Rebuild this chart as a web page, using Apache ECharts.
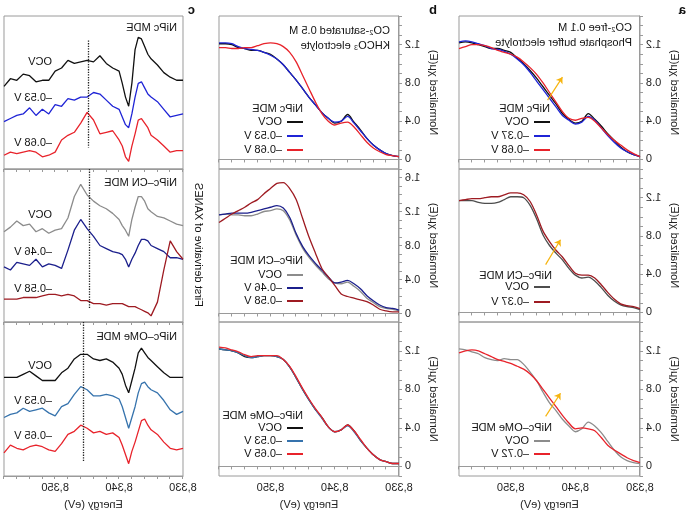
<!DOCTYPE html>
<html>
<head>
  <meta charset="utf-8">
  <script src="https://cdn.jsdelivr.net/npm/echarts@6/dist/echarts.min.js"></script>
  <style>
    html, body { margin: 0; padding: 0; background: #fff; }
    /* the reference figure is a left-right mirror image, so the whole chart is flipped */
    #id_chart { width: 693px; height: 519px; transform: scaleX(-1); }
  </style>
</head>
<body>
<div id="id_chart"></div>
<script type="text/javascript">
  // energy grid (eV) of the XANES spectra, panels a and b
  var energy = [8330, 8331, 8332, 8333, 8334, 8335, 8336, 8337, 8338, 8339, 8340, 8341, 8342, 8343, 8344,
                8345, 8346, 8347, 8348, 8349, 8350, 8351, 8352, 8353, 8354, 8355, 8356, 8357, 8358];

  // panel a: CO2-free 0.1 M phosphate buffer
  var aNiPcOCV  = [.03,.05,.08,.13,.20,.27,.35,.42,.48,.40,.38,.42,.48,.58,.67,.76,.85,.93,1.00,1.06,1.12,1.14,1.16,1.16,1.18,1.20,1.22,1.23,1.22];
  var aNiPcN037 = [.03,.05,.08,.12,.18,.25,.33,.41,.45,.39,.37,.41,.46,.55,.64,.73,.82,.91,.99,1.05,1.10,1.13,1.15,1.16,1.19,1.21,1.23,1.24,1.23];
  var aNiPcN068 = [.03,.06,.10,.15,.20,.26,.33,.40,.44,.43,.41,.43,.50,.60,.70,.80,.89,.96,1.02,1.07,1.10,1.12,1.14,1.17,1.19,1.20,1.20,1.18,1.16];
  var aCNOCV    = [.03,.05,.06,.08,.12,.18,.26,.33,.37,.36,.39,.46,.55,.62,.70,.81,.98,1.12,1.20,1.21,1.21,1.18,1.15,1.14,1.14,1.15,1.17,1.17,1.17];
  var aCNN037   = [.04,.06,.07,.09,.14,.21,.29,.36,.39,.39,.41,.49,.58,.65,.74,.85,1.02,1.16,1.23,1.25,1.25,1.23,1.21,1.21,1.20,1.19,1.19,1.18,1.17];
  var aOMeOCV   = [.03,.04,.06,.10,.17,.26,.35,.42,.46,.39,.36,.42,.49,.58,.66,.77,.89,.98,1.06,1.11,1.11,1.12,1.10,1.11,1.13,1.17,1.19,1.21,1.22];
  var aOMeN072  = [.04,.06,.09,.13,.17,.22,.30,.37,.39,.40,.39,.45,.53,.62,.71,.80,.89,.96,1.01,1.04,1.07,1.09,1.11,1.14,1.17,1.20,1.21,1.20,1.18];

  // panel b: CO2-saturated 0.5 M KHCO3
  var bNiPcOCV  = [.03,.04,.06,.10,.15,.22,.31,.39,.47,.40,.38,.43,.49,.57,.65,.74,.83,.91,.99,1.05,1.10,1.12,1.14,1.14,1.16,1.17,1.20,1.21,1.21];
  var bNiPcN053 = [.03,.04,.06,.10,.15,.22,.30,.38,.45,.40,.39,.43,.49,.57,.65,.74,.83,.91,.99,1.05,1.09,1.12,1.14,1.15,1.16,1.18,1.21,1.22,1.22];
  var bNiPcN068 = [.03,.04,.05,.08,.12,.18,.26,.34,.39,.38,.36,.40,.48,.60,.74,.88,1.02,1.12,1.18,1.21,1.22,1.21,1.19,1.17,1.17,1.16,1.16,1.17,1.17];
  var bCNOCV    = [.03,.05,.06,.08,.13,.18,.26,.32,.37,.35,.36,.41,.49,.57,.66,.77,.92,1.10,1.21,1.23,1.21,1.20,1.17,1.15,1.15,1.16,1.16,1.17,1.16];
  var bCNN046   = [.04,.06,.07,.10,.15,.21,.29,.35,.39,.37,.36,.43,.51,.59,.68,.79,.94,1.13,1.24,1.27,1.25,1.23,1.21,1.19,1.18,1.18,1.18,1.17,1.16];
  var bCNN058   = [.02,.02,.03,.05,.10,.14,.16,.18,.20,.23,.33,.43,.53,.71,.90,1.12,1.34,1.47,1.54,1.53,1.47,1.41,1.34,1.30,1.25,1.21,1.17,1.12,1.07];
  var bOMeOCV   = [.03,.03,.05,.07,.12,.19,.27,.37,.43,.38,.36,.41,.51,.59,.69,.80,.92,1.03,1.11,1.14,1.15,1.15,1.14,1.13,1.14,1.18,1.20,1.21,1.22];
  var bOMeN053  = [.03,.03,.05,.07,.12,.19,.27,.36,.42,.38,.36,.41,.50,.59,.69,.80,.92,1.03,1.11,1.14,1.15,1.15,1.14,1.13,1.15,1.18,1.20,1.21,1.22];
  var bOMeN065  = [.03,.03,.05,.07,.12,.19,.28,.37,.43,.38,.36,.41,.51,.60,.70,.81,.93,1.04,1.11,1.15,1.15,1.15,1.15,1.14,1.16,1.19,1.21,1.23,1.24];

  // panel c: first derivative (arbitrary units, curves offset)
  var energyC = [8330, 8331, 8332, 8333, 8334, 8335, 8335.5, 8336, 8336.5, 8337, 8337.5, 8338, 8338.5, 8339, 8339.5, 8340,
                 8341, 8342, 8343, 8344, 8345, 8346, 8347, 8348, 8349, 8350, 8351, 8352, 8353, 8354, 8355, 8356, 8357, 8358];
  var cNiPcOCV  = [58,58,60,63,68,72, 75,80,85,86,78,56,41,47,56,64, 66,69,74,70,71,70,69,71,66,64,58,58,57,61,62,58,59,54];
  var cNiPcN053 = [36,35,34,39,44,47, 49,53,57,56,47,36,27,29,34,39, 41,45,49,50,47,47,45,46,41,42,36,39,35,40,36,35,33,31];
  var cNiPcN068 = [12,12,11,15,19,22, 27,30,33,32,23,15,5,8,15,19, 25,24,23,32,37,30,24,22,19,11,9,8,11,12,11,10,11,9];
  var cCNOCV    = [63,64,66,68,69,72, 74,79,82,82,75,67,56,60,63,67, 71,74,76,79,83,90,82,68,61,60,58,61,59,64,63,66,62,59];
  var cCNN046   = [41,42,42,46,48,50, 53,54,54,50,45,41,36,41,44,45, 46,48,50,56,61,67,60,47,35,37,38,36,41,37,38,39,34,36];
  var cCNN058   = [41,46,53,34,13,4, 6,7,8,9,10,10,10,11,12,12, 12,11,12,12,14,14,17,18,17,18,18,17,16,16,16,15,15,15];
  var cOMeOCV   = [64,64,64,67,71,75, 77,80,83,80,70,62,54,59,66,70, 74,76,75,76,79,79,76,70,67,62,62,62,65,68,66,64,64,64];
  var cOMeN053  = [42,40,43,49,54,56, 58,61,60,54,45,38,31,38,45,50, 52,53,52,52,56,58,53,47,45,39,41,44,43,42,44,41,40,38];
  var cOMeN065  = [18,17,18,22,27,30, 33,37,36,29,22,16,8,14,20,25, 28,27,29,28,31,33,29,27,21,16,17,19,20,19,17,18,20,15];

  // yellow arrows in panel a: [E tail, value tail, E head, value head]
  var arrowsA = [[8344.3, 0.62, 8342.0, 0.86], [8344.6, 0.50, 8342.3, 0.76], [8344.6, 0.52, 8342.3, 0.76]];
  // dotted guide lines in panel c: [E, upper, lower]
  var guidesC = [[8344.7, 84, 14], [8344.6, 100, 9], [8345.5, 100, 9]];

  var FONT = 'Liberation Sans, Arial, sans-serif';
  var AXIS = '#9a9a9a';
  var cols = [{ left: 53, width: 181 }, { left: 294, width: 180 }, { left: 510, width: 179 }];
  var rows = [{ top: 16, height: 153 }, { top: 169, height: 153 }, { top: 322, height: 154 }];

  function pairs(xs, ys) {
    return xs.map(function (x, i) { return [x, ys[i]]; });
  }

  var grids = [], xAxes = [], yAxes = [], seriesList = [];
  for (var c = 0; c < 3; c++) {
    for (var r = 0; r < 3; r++) {
      var g = c * 3 + r;
      grids.push({ left: cols[c].left, width: cols[c].width, top: rows[r].top, height: rows[r].height,
        show: true, borderColor: AXIS, borderWidth: 1, backgroundColor: 'transparent' });
      xAxes.push({
        type: 'value', gridIndex: g, min: 8330, max: 8358, interval: 2,
        axisLine: { lineStyle: { color: AXIS } },
        axisTick: { length: 3, lineStyle: { color: AXIS } },
        splitLine: { show: false },
        axisLabel: { show: r === 2, margin: 6, fontSize: 11, color: '#222', fontFamily: FONT,
          formatter: function (v) { return v % 10 === 0 ? String(v).replace(/(\d)(\d{3})$/, '$1,$2') : ''; } },
        name: r === 2 ? 'Energy (eV)' : '', nameLocation: 'middle', nameGap: 23,
        nameTextStyle: { fontSize: 11, color: '#222', fontFamily: FONT }
      });
      if (c < 2) {
        yAxes.push({
          type: 'value', gridIndex: g, min: -0.1, max: (c === 1 && r === 1) ? 1.7 : 1.5, interval: 0.1,
          axisLine: { show: true, lineStyle: { color: AXIS } },
          axisTick: { show: true, length: 3, lineStyle: { color: AXIS } },
          splitLine: { show: false },
          axisLabel: { margin: 6, fontSize: 11, color: '#222', fontFamily: FONT,
            formatter: function (v) { var k = Math.round(v * 10); return k % 4 === 0 ? String(k / 10) : ''; } },
          name: 'Normalized χμ(E)', nameLocation: 'middle', nameGap: 29,
          nameTextStyle: { fontSize: 11, color: '#222', fontFamily: FONT }
        });
      } else {
        yAxes.push({ type: 'value', gridIndex: g, min: 0, max: 100, show: false });
      }
    }
  }

  function addLine(g, name, xs, ys, color, smooth) {
    var s = { type: 'line', name: name, xAxisIndex: g, yAxisIndex: g, data: pairs(xs, ys),
      symbol: 'none', smooth: smooth, color: color, lineStyle: { width: 1.3, color: color } };
    seriesList.push(s);
    return s;
  }

  var BLACK = '#111111', BLUE = '#1f24d6', RED = '#e8232b', DGRAY = '#4d4d4d', GRAY = '#8c8c8c',
      DRED = '#9e1b22', NAVY = '#1b1f8c', STEEL = '#3673ad', GOLD = '#f6b40e';

  var aFirst = [
    addLine(0, 'a1|OCV', energy, aNiPcOCV, BLACK, 0.3),
    null, null
  ];
  addLine(0, 'a1|–0.37 V', energy, aNiPcN037, BLUE, 0.3);
  addLine(0, 'a1|–0.68 V', energy, aNiPcN068, RED, 0.3);
  aFirst[1] = addLine(1, 'a2|OCV', energy, aCNOCV, DGRAY, 0.3);
  addLine(1, 'a2|–0.37 V', energy, aCNN037, DRED, 0.3);
  aFirst[2] = addLine(2, 'a3|OCV', energy, aOMeOCV, GRAY, 0.3);
  addLine(2, 'a3|–0.72 V', energy, aOMeN072, RED, 0.3);

  addLine(3, 'b1|OCV', energy, bNiPcOCV, BLACK, 0.3);
  addLine(3, 'b1|–0.53 V', energy, bNiPcN053, BLUE, 0.3);
  addLine(3, 'b1|–0.68 V', energy, bNiPcN068, RED, 0.3);
  addLine(4, 'b2|OCV', energy, bCNOCV, GRAY, 0.3);
  addLine(4, 'b2|–0.46 V', energy, bCNN046, NAVY, 0.3);
  addLine(4, 'b2|–0.58 V', energy, bCNN058, DRED, 0.3);
  addLine(5, 'b3|OCV', energy, bOMeOCV, BLACK, 0.3);
  addLine(5, 'b3|–0.53 V', energy, bOMeN053, STEEL, 0.3);
  addLine(5, 'b3|–0.65 V', energy, bOMeN065, RED, 0.3);

  var cFirst = [
    addLine(6, 'c1|OCV', energyC, cNiPcOCV, BLACK, false),
    null, null
  ];
  addLine(6, 'c1|–0.53 V', energyC, cNiPcN053, BLUE, false);
  addLine(6, 'c1|–0.68 V', energyC, cNiPcN068, RED, false);
  cFirst[1] = addLine(7, 'c2|OCV', energyC, cCNOCV, GRAY, false);
  addLine(7, 'c2|–0.46 V', energyC, cCNN046, NAVY, false);
  addLine(7, 'c2|–0.58 V', energyC, cCNN058, DRED, false);
  cFirst[2] = addLine(8, 'c3|OCV', energyC, cOMeOCV, BLACK, false);
  addLine(8, 'c3|–0.53 V', energyC, cOMeN053, STEEL, false);
  addLine(8, 'c3|–0.65 V', energyC, cOMeN065, RED, false);

  // arrows (panel a) and dotted guides (panel c)
  arrowsA.forEach(function (a, i) {
    aFirst[i].markLine = { silent: true, symbol: ['none', 'arrow'], symbolSize: 6,
      lineStyle: { color: GOLD, width: 1.2, type: 'solid' }, label: { show: false },
      data: [[{ coord: [a[0], a[1]] }, { coord: [a[2], a[3]] }]] };
  });
  guidesC.forEach(function (d, i) {
    cFirst[i].markLine = { silent: true, symbol: ['none', 'none'],
      lineStyle: { color: '#222', width: 1.3, type: 'dotted' }, label: { show: false },
      data: [[{ coord: [d[0], d[1]] }, { coord: [d[0], d[2]] }]] };
  });

  function legendAt(x, top, gap, names) {
    return { left: x, top: top, orient: 'vertical', icon: 'rect', itemWidth: 16, itemHeight: 2,
      itemGap: gap, padding: 0, selectedMode: false, data: names,
      formatter: function (n) { return n.split('|')[1]; },
      textStyle: { fontSize: 11, color: '#111', lineHeight: 12, fontFamily: FONT } };
  }
  var legends = [
    legendAt(143, 116, 2, ['a1|OCV', 'a1|–0.37 V', 'a1|–0.68 V']),
    legendAt(143, 281, 3, ['a2|OCV', 'a2|–0.37 V']),
    legendAt(143, 435, 1, ['a3|OCV', 'a3|–0.72 V']),
    legendAt(390, 116, 2, ['b1|OCV', 'b1|–0.53 V', 'b1|–0.68 V']),
    legendAt(390, 269, 1, ['b2|OCV', 'b2|–0.46 V', 'b2|–0.58 V']),
    legendAt(390, 422, 1, ['b3|OCV', 'b3|–0.53 V', 'b3|–0.65 V'])
  ];

  function txt(text, x, y, extra) {
    var t = { text: text, left: x, top: y - 7, padding: 0,
      textStyle: { fontSize: 11, fontWeight: 'normal', color: '#111', fontFamily: FONT, lineHeight: 15 } };
    if (extra) { Object.assign(t.textStyle, extra); }
    return t;
  }
  var titles = [
    txt('a', 7, 10, { fontWeight: 'bold', fontSize: 13 }),
    txt('b', 256, 10, { fontWeight: 'bold', fontSize: 13 }),
    txt('c', 498, 10, { fontWeight: 'bold', fontSize: 13 }),
    txt('CO₂-free 0.1 M\nPhosphate buffer electrolyte', 61, 27),
    txt('CO₂-saturated 0.5 M\nKHCO₃ electrolyte', 303, 30),
    txt('NiPc MDE', 143, 108), txt('NiPc–CN MDE', 141, 275), txt('NiPc–OMe MDE', 141, 427),
    txt('NiPc MDE', 390, 108), txt('NiPc–CN MDE', 390, 260), txt('NiPc–OMe MDE', 390, 415),
    txt('NiPc MDE', 516, 27), txt('NiPc–CN MDE', 516, 182), txt('NiPc–OMe MDE', 516, 336),
    txt('OCV', 641, 61), txt('–0.53 V', 641, 97), txt('–0.68 V', 641, 142),
    txt('OCV', 641, 214), txt('–0.46 V', 641, 251), txt('–0.58 V', 641, 288),
    txt('OCV', 641, 365), txt('–0.53 V', 641, 400), txt('–0.65 V', 641, 435)
  ];

  var myChart = echarts.init(document.getElementById('id_chart'));
  myChart.setOption({
    animation: false,
    textStyle: { fontFamily: FONT },
    title: titles,
    legend: legends,
    grid: grids,
    xAxis: xAxes,
    yAxis: yAxes,
    graphic: [{
      type: 'text', x: 495, y: 245, rotation: Math.PI / 2,
      style: { text: 'First derivative of XANES', fontSize: 11, fontFamily: FONT, fill: '#111',
        align: 'center', verticalAlign: 'middle' }
    }],
    series: seriesList
  });
</script>
</body>
</html>
